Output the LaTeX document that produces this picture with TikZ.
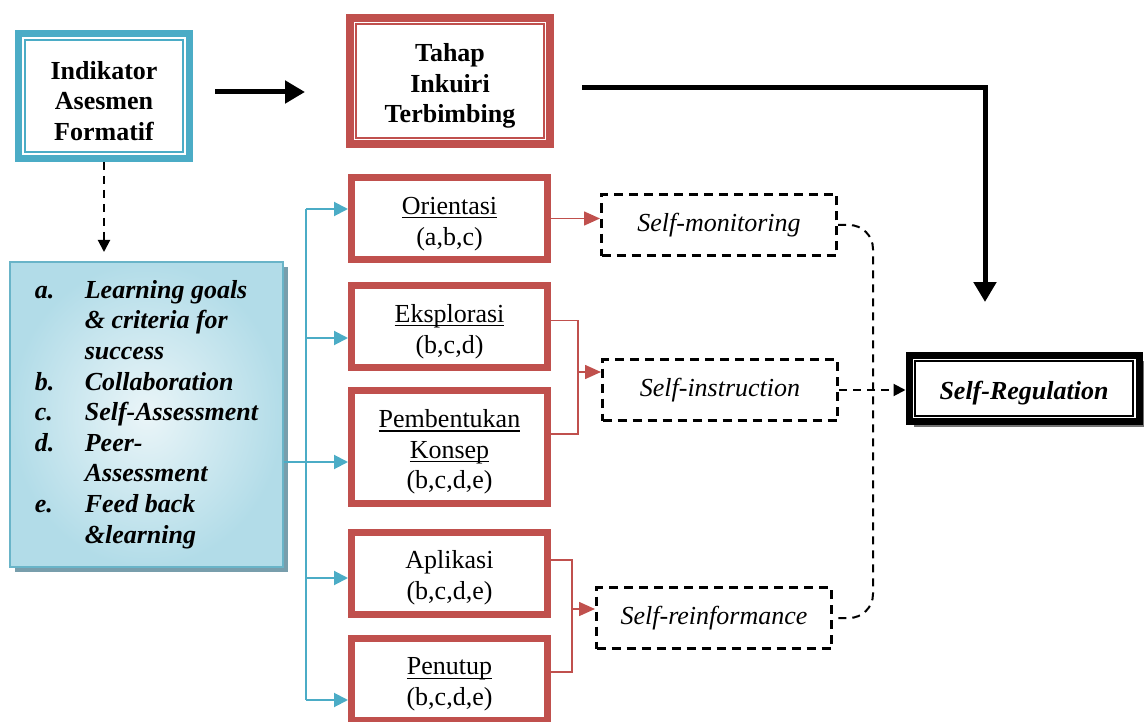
\documentclass[tikz,border=0pt]{standalone}
\usepackage{fontspec}
\setmainfont{Liberation Serif}
\usetikzlibrary{arrows.meta,shadows,calc}

\definecolor{biruBox}{RGB}{75,172,198}
\definecolor{merahBox}{RGB}{192,80,77}
\definecolor{listGaris}{RGB}{105,180,200}
\definecolor{listTepi}{RGB}{178,220,232}
\definecolor{listTengah}{RGB}{234,245,248}
\definecolor{listBayang}{RGB}{120,158,172}
\newcommand{\teks}{\fontsize{13}{15.3}\selectfont}
\newcommand{\ganjal}{\rule{0pt}{14pt}}
\newcommand{\garis}[1]{\setbox0\hbox{#1}\rlap{\rule[-2pt]{\wd0}{0.6pt}}\box0}

\begin{document}
\begin{tikzpicture}[x=0.5pt, y=-0.5pt, >=Triangle,
    every node/.style={font=\teks},
    indikbox/.style={draw=biruBox, line width=3.5pt, fill=white, minimum width=85.5pt, minimum height=62.5pt, align=center, inner sep=0pt, font=\teks\bfseries},
    tahapbox/.style={draw=merahBox, line width=4pt, fill=white, minimum width=100pt, minimum height=63pt, align=center, inner sep=0pt, font=\teks\bfseries},
    stagebox/.style={draw=merahBox, line width=3.5pt, fill=white, minimum width=98pt, minimum height=41pt, align=center, inner sep=0pt},
    selfbox/.style={draw, line width=1.5pt, dash pattern=on 4.5pt off 3pt, minimum width=117.5pt, minimum height=30.5pt, font=\teks\itshape},
    regbox/.style={draw, line width=3.5pt, fill=white, minimum width=115pt, minimum height=33pt, font=\teks\bfseries\itshape,
      drop shadow={shadow xshift=2.5pt, shadow yshift=-2.5pt, fill=black!55, opacity=1}},
    listbox/.style={draw=listGaris, line width=0.9pt, inner color=listTengah, outer color=listTepi, minimum width=136.5pt, minimum height=152.5pt, font=\teks\bfseries\itshape,
      drop shadow={shadow xshift=2.5pt, shadow yshift=-2.5pt, fill=listBayang, opacity=1}},
    thickarrow/.style={line width=2.5pt, -{Triangle[length=10pt, width=11pt]}},
    bluelink/.style={draw=biruBox, line width=1pt},
    bluearrow/.style={bluelink, -{Triangle[length=7pt, width=7pt]}},
    redlink/.style={draw=merahBox, line width=0.8pt},
    redarrow/.style={redlink, -{Triangle[length=8pt, width=7pt]}},
    dashlink/.style={line width=1pt, dash pattern=on 4pt off 3pt},
    dasharrow/.style={dashlink, -{Triangle[length=6pt, width=6pt]}}]
    \useasboundingbox (0,0) rectangle (1147,722);

    % Kotak utama
    \node[indikbox] (indik) at (104,96) {\ganjal Indikator\\Asesmen\\Formatif};
    \node[tahapbox] (tahap) at (450,81) {\ganjal Tahap\\Inkuiri\\Terbimbing};
    \draw[biruBox, line width=1pt] ([shift={(5.2pt,5.2pt)}]indik.south west) rectangle ([shift={(-5.2pt,-5.2pt)}]indik.north east);
    \draw[merahBox, line width=1pt] ([shift={(5.2pt,5.2pt)}]tahap.south west) rectangle ([shift={(-5.2pt,-5.2pt)}]tahap.north east);

    % Daftar indikator
    \node[listbox] (daftar) at (146.5,414.5) {\begin{tabular}{@{}p{25pt}@{}l@{}}
        a. & Learning goals\\
           & \& criteria for\\
           & success\\
        b. & Collaboration\\
        c. & Self-Assessment\\
        d. & Peer-\\
           & Assessment\\
        e. & Feed back\\
           & \&learning
      \end{tabular}};

    % Tahap-tahap inkuiri
    \node[stagebox] (ori) at (449.5,218.5) {\ganjal\garis{Orientasi}\\(a,b,c)};
    \node[stagebox] (eks) at (449.5,326.5) {\ganjal\garis{Eksplorasi}\\(b,c,d)};
    \node[stagebox, minimum height=56.5pt] (pem) at (449.5,447) {\ganjal\garis{Pembentukan}\\\garis{Konsep}\\(b,c,d,e)};
    \node[stagebox] (apl) at (449.5,573) {\ganjal Aplikasi\\(b,c,d,e)};
    \node[stagebox] (pen) at (449.5,679) {\ganjal\garis{Penutup}\\(b,c,d,e)};

    % Aspek self-regulation
    \node[selfbox] (smon) at (719,225) {Self-monitoring};
    \node[selfbox] (sins) at (720,390) {Self-instruction};
    \node[selfbox] (srei) at (714,618) {Self-reinformance};
    \node[regbox] (sreg) at (1024,388.5) {\ganjal Self-Regulation};
    \draw[line width=1pt] ([shift={(4.7pt,4.7pt)}]sreg.south west) rectangle ([shift={(-4.7pt,-4.7pt)}]sreg.north east);

    % Panah hitam tebal
    \coordinate (ujung) at (985,302);
    \draw[thickarrow] ([xshift=11pt, yshift=2pt]indik.east) -- ++(45pt,0);
    \draw[thickarrow] ([xshift=14pt, yshift=-3.5pt]tahap.east) -| (ujung);

    % Garis biru ke tiap tahap
    \draw[bluelink] ([yshift=-23.75pt]daftar.east) -- ++(11.5pt,0);
    \draw[bluelink] ([xshift=-21pt, yshift=4.75pt]ori.west) -- ([xshift=-21pt, yshift=-10.5pt]pen.west);
    \foreach \nama/\geser in {ori/4.75pt, eks/-5.75pt, pem/-7.5pt, apl/-2.5pt, pen/-10.5pt}
      \draw[bluearrow] ([xshift=-21pt, yshift=\geser]\nama.west) -- ([yshift=\geser]\nama.west);

    % Garis merah ke aspek
    \coordinate (temu1) at (578,372);
    \coordinate (temu2) at (572,609);
    \draw[redarrow] (ori.east) -- (ori.east -| smon.west);
    \draw[redlink] ([yshift=3pt]eks.east) -| (temu1) |- ([yshift=6.5pt]pem.east);
    \draw[redarrow] (temu1) -- (temu1 -| sins.west);
    \draw[redlink] ([yshift=6.5pt]apl.east) -| (temu2) |- ([yshift=3.5pt]pen.east);
    \draw[redarrow] (temu2) -- (temu2 -| srei.west);

    % Garis putus-putus
    \coordinate (belok) at (873,400);
    \draw[dasharrow] (indik.south) -- ++(0,-45pt);
    \draw[dasharrow] (sins.east) -- (sins.east -| sreg.west);
    \draw[dashlink, rounded corners=12pt] (smon.east) -| (belok) |- (srei.east);
\end{tikzpicture}
\end{document}
